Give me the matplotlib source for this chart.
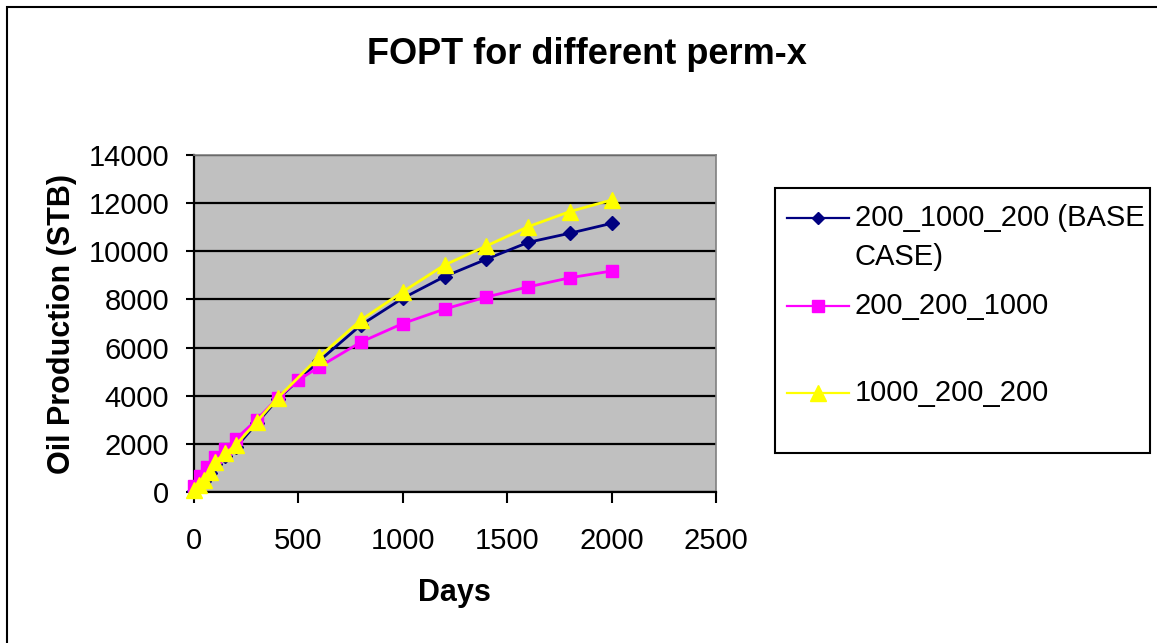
import matplotlib
matplotlib.use("Agg")
import matplotlib.pyplot as plt
from matplotlib.lines import Line2D
from matplotlib.patches import Rectangle

plt.rcParams['font.family'] = ['Liberation Sans', 'DejaVu Sans']

# Cumulative field oil production (STB) versus time (days)
base_days = [0, 25, 50, 75, 100, 150, 200, 300, 400, 600, 800, 1000, 1200, 1400, 1600, 1800, 2000]
base_fopt = [50, 250, 450, 780, 1150, 1500, 1850, 2850, 3850, 5450, 6940, 8050, 8950, 9670, 10370, 10750, 11160]

kz_days = [0, 30, 60, 100, 150, 200, 300, 400, 500, 600, 800, 1000, 1200, 1400, 1600, 1800, 2000]
kz_fopt = [250, 650, 1050, 1450, 1800, 2200, 3000, 3900, 4650, 5200, 6230, 7000, 7600, 8100, 8520, 8900, 9180]

kx_days = [0, 25, 50, 75, 100, 150, 200, 300, 400, 600, 800, 1000, 1200, 1400, 1600, 1800, 2000]
kx_fopt = [80, 290, 500, 850, 1250, 1600, 1950, 2920, 3900, 5620, 7150, 8320, 9430, 10220, 11020, 11650, 12130]

series_labels = ["200_1000_200 (BASE\nCASE)", "200_200_1000", "1000_200_200"]
x_ticks = [0, 500, 1000, 1500, 2000, 2500]
y_ticks = [0, 2000, 4000, 6000, 8000, 10000, 12000, 14000]

W, H = 1157, 643
fig = plt.figure(figsize=(W / 100, H / 100), dpi=100)


def fx(px):
    return px / W


def fy(py):
    return 1 - py / H


# outer chart frame
fig.add_artist(Rectangle((fx(7), fy(H + 10)), fx(W + 10 - 7), fy(7) - fy(H + 10),
                         transform=fig.transFigure, fill=False, edgecolor='black', linewidth=1.5))

ax = fig.add_axes([fx(194), fy(492), fx(716) - fx(194), fy(155) - fy(492)])
ax.set_facecolor('#C0C0C0')
ax.set_xlim(0, 2500)
ax.set_ylim(0, 14000)
ax.set_xticks(x_ticks)
ax.set_yticks(y_ticks)
ax.tick_params(axis='both', labelsize=21, direction='out', width=1.5, color='black')
ax.tick_params(axis='y', length=6, pad=12)
ax.tick_params(axis='x', length=8, pad=17)
ax.grid(axis='y', color='black', linewidth=1.6)
ax.set_axisbelow(True)
for side in ('top', 'right'):
    ax.spines[side].set_color('#808080')
    ax.spines[side].set_linewidth(1.2)
for side in ('left', 'bottom'):
    ax.spines[side].set_color('black')
    ax.spines[side].set_linewidth(1.6)

styles = [
    dict(color='#000080', marker='D', markersize=7),
    dict(color='#FF00FF', marker='s', markersize=9),
    dict(color='#FFFF00', marker='^', markersize=12),
]
data = [(base_days, base_fopt), (kz_days, kz_fopt), (kx_days, kx_fopt)]
for i, ((d, v), st) in enumerate(zip(data, styles)):
    ax.plot(d, v, color=st['color'], linewidth=2.0, marker=st['marker'],
            markersize=st['markersize'], markerfacecolor=st['color'],
            markeredgecolor=st['color'], clip_on=False, zorder=3 + i)

fig.text(fx(587), fy(55), "FOPT for different perm-x", ha='center', va='center',
         fontsize=26, fontweight='bold')
fig.text(fx(454), fy(593), "Days", ha='center', va='center', fontsize=22, fontweight='bold')
fig.text(fx(62), fy(324), "Oil Production (STB)", ha='center', va='center',
         fontsize=22, fontweight='bold', rotation=90)

# legend box
fig.add_artist(Rectangle((fx(775), fy(453)), fx(1150) - fx(775), fy(188) - fy(453),
                         transform=fig.transFigure, facecolor='white', edgecolor='black',
                         linewidth=1.5))
rows_y = [218, 306, 393]
for label, st, ry in zip(series_labels, styles, rows_y):
    fig.add_artist(Line2D([fx(787), fx(849)], [fy(ry), fy(ry)], transform=fig.transFigure,
                          color=st['color'], linewidth=1.6))
    fig.add_artist(Line2D([fx(818)], [fy(ry)], transform=fig.transFigure,
                          color=st['color'], marker=st['marker'], markersize=st['markersize'] - 1,
                          markerfacecolor=st['color'], markeredgecolor=st['color']))
    lines = label.split('\n')
    for k, part in enumerate(lines):
        fig.text(fx(855), fy(ry + 39 * k), part, ha='left', va='center', fontsize=21)

fig.savefig("out.png", dpi=100)
